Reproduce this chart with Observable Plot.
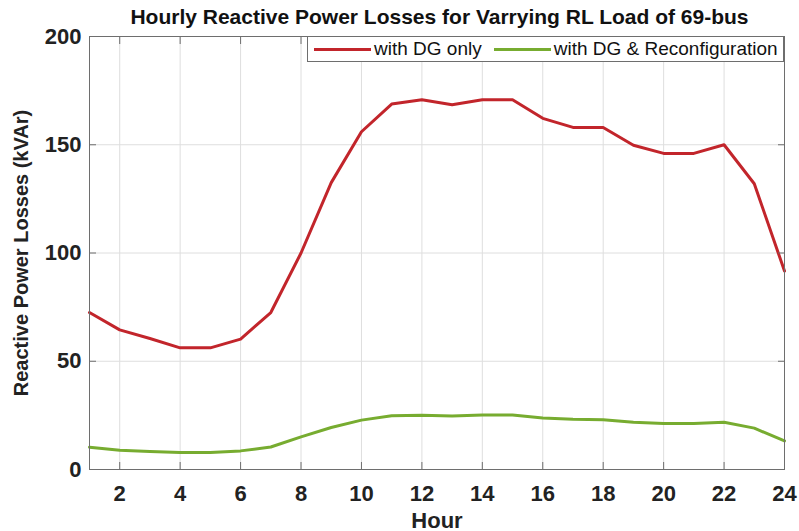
<!DOCTYPE html>
<html>
<head>
<meta charset="utf-8">
<script src="https://cdn.jsdelivr.net/npm/d3@7"></script>
<script src="https://cdn.jsdelivr.net/npm/@observablehq/plot@0.6"></script>
<style>
  html, body { margin: 0; padding: 0; background: #fff; }
  #wrap { position: relative; width: 799px; height: 531px; font-family: "Liberation Sans", Arial, sans-serif; }
  #title { position: absolute; left: 40px; top: 5px; width: 799px; text-align: center; font-weight: bold; font-size: 21px; color: #111; white-space: nowrap; }
  #legend { position: absolute; left: 307px; top: 36px; width: 477px; height: 26px; border: 1px solid #6e6e6e; background: #fff; box-sizing: border-box; display: flex; align-items: center; font-size: 19px; color: #111; white-space: nowrap; }
  .sw { display: inline-block; width: 57px; height: 3px; margin-left: 6px; margin-right: 3px; }
</style>
</head>
<body>
<div id="wrap">
  <div id="chart"></div>
  <div id="title"></div>
  <div id="legend"></div>
</div>
<script>
const hours = [1,2,3,4,5,6,7,8,9,10,11,12,13,14,15,16,17,18,19,20,21,22,23,24];
const withDGOnly = [72.5,64.5,60.5,56.2,56.2,60.2,72.5,100,132.5,156,168.8,170.8,168.5,170.8,170.8,162.2,158,158,149.8,146,146,150,132,91.7];
const withDGReconf = [10.3,8.9,8.3,7.8,7.8,8.6,10.4,15.1,19.4,22.8,24.8,25.1,24.7,25.2,25.2,23.8,23.2,23,21.8,21.2,21.2,21.8,19.1,13.2];
const seriesNames = ["with DG only", "with DG & Reconfiguration"];
const seriesColors = ["#c2252b", "#77ac30"];
const xTicks = [2,4,6,8,10,12,14,16,18,20,22,24];
const yTicks = [0,50,100,150,200];
const titleText = "Hourly Reactive Power Losses for Varrying RL Load of 69-bus";
const xLabel = "Hour";
const yLabel = "Reactive Power Losses (kVAr)";

const rows = [];
hours.forEach((h, i) => {
  rows.push({hour: h, value: withDGOnly[i], series: seriesNames[0]});
  rows.push({hour: h, value: withDGReconf[i], series: seriesNames[1]});
});

const font = {fontSize: 22, fontWeight: "bold"};

const chart = Plot.plot({
  width: 799,
  height: 531,
  marginLeft: 89,
  marginRight: 15,
  marginTop: 36,
  marginBottom: 62,
  style: {fontFamily: "'Liberation Sans', Arial, sans-serif", color: "#222", background: "#fff"},
  x: {domain: [1, 24]},
  y: {domain: [0, 200]},
  color: {domain: seriesNames, range: seriesColors},
  marks: [
    Plot.gridX(xTicks.filter(t => t < 24), {stroke: "#dedede", strokeOpacity: 1}),
    Plot.gridY(yTicks.filter(t => t > 0 && t < 200), {stroke: "#dedede", strokeOpacity: 1}),
    Plot.line(rows, {x: "hour", y: "value", z: "series", stroke: "series", strokeWidth: 3, strokeLinejoin: "round"}),
    Plot.frame({stroke: "#6e6e6e", strokeWidth: 1}),
    Plot.axisX(xTicks, {anchor: "bottom", tickSize: 0, tickPadding: 16, ...font, fill: "#222",
      label: xLabel, labelAnchor: "center", labelArrow: "none", labelOffset: 58}),
    Plot.axisY(yTicks, {anchor: "left", tickSize: 0, tickPadding: 8, ...font, fill: "#222",
      label: null}),
    Plot.axisY([], {anchor: "left", tickSize: 0, fontSize: 20, fontWeight: "bold", fill: "#222",
      label: yLabel, labelAnchor: "center", labelArrow: "none", labelOffset: 76}),
    Plot.axisX(xTicks, {anchor: "bottom", tickSize: -7, fill: "none", label: null, stroke: "#6e6e6e"}),
    Plot.axisX(xTicks, {anchor: "top", tickSize: -7, fill: "none", label: null, stroke: "#6e6e6e"}),
    Plot.axisY(yTicks, {anchor: "left", tickSize: -7, fill: "none", label: null, stroke: "#6e6e6e"}),
    Plot.axisY(yTicks, {anchor: "right", tickSize: -7, fill: "none", label: null, stroke: "#6e6e6e"})
  ]
});
document.getElementById("chart").appendChild(chart);

document.getElementById("title").textContent = titleText;
const legend = document.getElementById("legend");
seriesNames.forEach((name, i) => {
  const sw = document.createElement("span");
  sw.className = "sw";
  sw.style.background = seriesColors[i];
  if (i > 0) sw.style.marginLeft = "12px";
  legend.appendChild(sw);
  const t = document.createElement("span");
  t.textContent = name;
  legend.appendChild(t);
});
</script>
</body>
</html>
